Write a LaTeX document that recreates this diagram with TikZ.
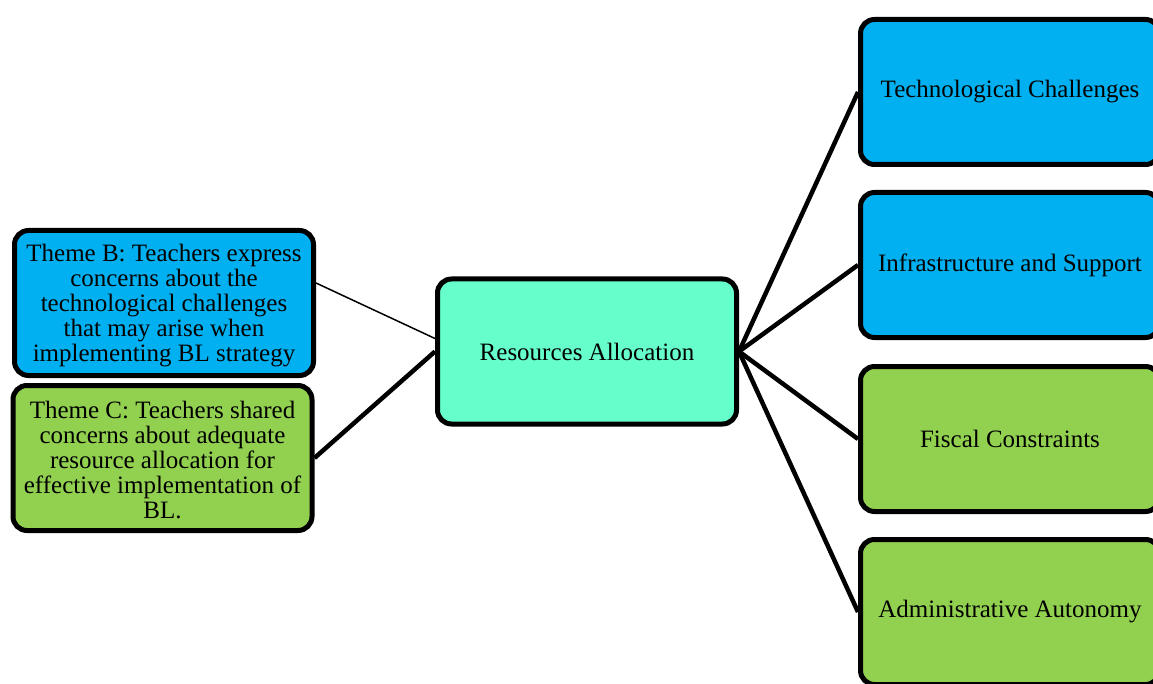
\documentclass[tikz,border=0pt]{standalone}
\usepackage{fontspec}
\setmainfont{Liberation Serif}
\usetikzlibrary{calc}
\definecolor{techblue}{HTML}{00B0F0}
\definecolor{leafgreen}{HTML}{92D050}
\definecolor{aqua}{HTML}{66FFCC}
\begin{document}
\begin{tikzpicture}[x=1pt,y=-1pt,
  card/.style={draw=black, line width=5pt, rounded corners=14pt,
    minimum width=299pt, minimum height=145pt, align=center,
    inner sep=1pt, font=\fontsize{25}{25}\selectfont},
  link/.style={draw=black, line width=4.5pt},
  thinlink/.style={draw=black, line width=1.5pt}]
\useasboundingbox (0,0) rectangle (1153,684);
\clip (0,0) rectangle (1153,684);

% left-hand themes
\node[card, fill=techblue] (b) at (164,303) {};
\node[align=center, font=\fontsize{25}{25}\selectfont] (btext) at (164,306)
  {Theme B: Teachers express\\concerns about the\\technological challenges\\that may arise when\\implementing BL strategy};
\node[card, fill=leafgreen] (c) at (162.5,458) {};
\node[align=center, font=\fontsize{25}{25}\selectfont] (ctext) at (162.5,460)
  {Theme C: Teachers shared\\concerns about adequate\\resource allocation for\\effective implementation of\\BL.};

% central node
\node[card, fill=aqua] (ra) at (587,351.5) {Resources Allocation};

% right-hand categories
\node[card, fill=techblue] (tc) at (1010,92) {Technological Challenges};
\node[card, fill=techblue] (is) at (1010,265) {Infrastructure and Support};
\node[card, fill=leafgreen] (fc) at (1010,439) {Fiscal Constraints};
\node[card, fill=leafgreen] (aa) at (1010,612) {Administrative Autonomy};

% connectors
\draw[thinlink] ($(b.east)+(0,-20)$) -- ($(ra.west)+(0,-13)$);
\draw[link] (c.east) -- (ra.west);
\draw[link] (ra.east) -- (tc.west);
\draw[link] (ra.east) -- (is.west);
\draw[link] (ra.east) -- (fc.west);
\draw[link] (ra.east) -- (aa.west);
\end{tikzpicture}
\end{document}
